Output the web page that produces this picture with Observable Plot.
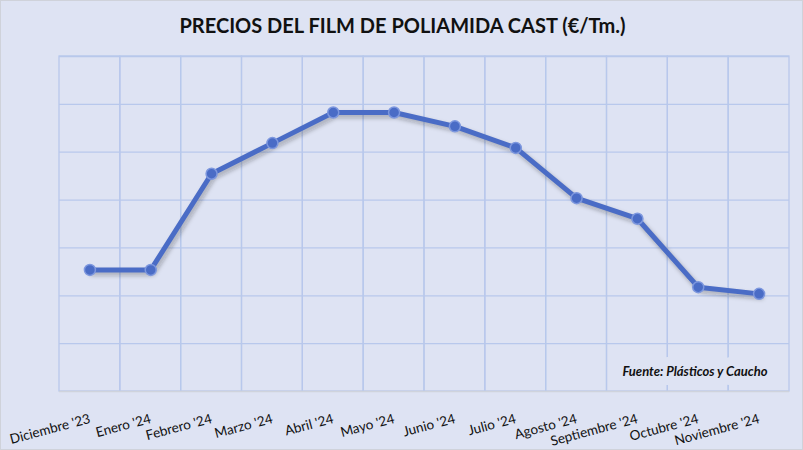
<!DOCTYPE html>
<html>
<head>
<meta charset="utf-8">
<script src="https://cdn.jsdelivr.net/npm/d3@7"></script>
<script src="https://cdn.jsdelivr.net/npm/@observablehq/plot@0.6"></script>
<style>
  html, body { margin: 0; padding: 0; }
  body { width: 803px; height: 450px; background: #dee3f3; overflow: hidden; }
  #wrap { width: 801px; height: 448px; border: 1px solid #cfd2da; background: #dee3f3; position: relative; }
  #title { height: 44px; line-height: 48px; text-align: center; font-family: Lato, "Open Sans", sans-serif; font-weight: 700; font-size: 20px; color: #111; padding-left: 2px; }
  svg { display: block; }
</style>
</head>
<body>
<div id="wrap">
  <div id="title">PRECIOS DEL FILM DE POLIAMIDA CAST (€/Tm.)</div>
  <div id="chart"></div>
</div>
<script>
const months = ["Diciembre '23", "Enero '24", "Febrero '24", "Marzo '24", "Abril '24", "Mayo '24", "Junio '24", "Julio '24", "Agosto '24", "Septiembre '24", "Octubre '24", "Noviembre '24"];
const prices = [2.54, 2.54, 4.55, 5.19, 5.83, 5.83, 5.54, 5.09, 4.04, 3.61, 2.18, 2.04];
const yGrid = [0, 1, 2, 3, 4, 5, 6, 7];
const source = "Fuente: Plásticos y Caucho";

const data = months.map((m, i) => ({month: m, price: prices[i]}));
const bg = "#dee3f3";
const grid = "#b8c8ec";
const lineColor = "#4a6cc6";

const chart = Plot.plot({
  width: 801,
  height: 404,
  marginTop: 11,
  marginBottom: 58,
  marginLeft: 58,
  marginRight: 13,
  style: {background: bg, fontFamily: "Lato, 'Open Sans', sans-serif"},
  x: {type: "band", domain: months, padding: 0, round: false, label: null},
  y: {domain: [0, 7], axis: null},
  marks: [
    Plot.ruleY(yGrid.slice(1), {stroke: grid, strokeWidth: 1.3}),
    Plot.cell(months, {x: d => d, fill: "none", stroke: grid, strokeWidth: 1.3, inset: 0}),
    Plot.ruleY([0], {stroke: "#cfd3dc", strokeWidth: 1.3}),
    Plot.text([source], {frameAnchor: "bottom-right", dx: -22, dy: -16, text: d => d, fontWeight: 700, fontStyle: "italic", fontSize: 13, fill: "#111", stroke: bg, strokeWidth: 18}),
    Plot.line(data, {x: "month", y: "price", stroke: "#222", strokeWidth: 5, strokeOpacity: 0.3, dx: 2, dy: 3}),
    Plot.line(data, {x: "month", y: "price", stroke: lineColor, strokeWidth: 5}),
    Plot.dot(data, {x: "month", y: "price", r: 5.5, fill: lineColor, stroke: "#7d97de", strokeWidth: 1.5}),
    Plot.axisX({tickSize: 0, tickRotate: -15, tickPadding: 19, dy: 8, fontSize: 13.5, fill: "#111", label: null})
  ]
});
document.getElementById("chart").appendChild(chart);

// soft drop shadow on the line's shadow copy
const svg = d3.select(chart);
const defs = svg.insert("defs", ":first-child");
defs.append("filter").attr("id", "blur").attr("x", "-10%").attr("y", "-10%").attr("width", "120%").attr("height", "120%")
  .append("feGaussianBlur").attr("stdDeviation", 2);
const lines = svg.selectAll("g[aria-label='line']").nodes();
if (lines.length) d3.select(lines[0]).attr("filter", "url(#blur)");
</script>
</body>
</html>
